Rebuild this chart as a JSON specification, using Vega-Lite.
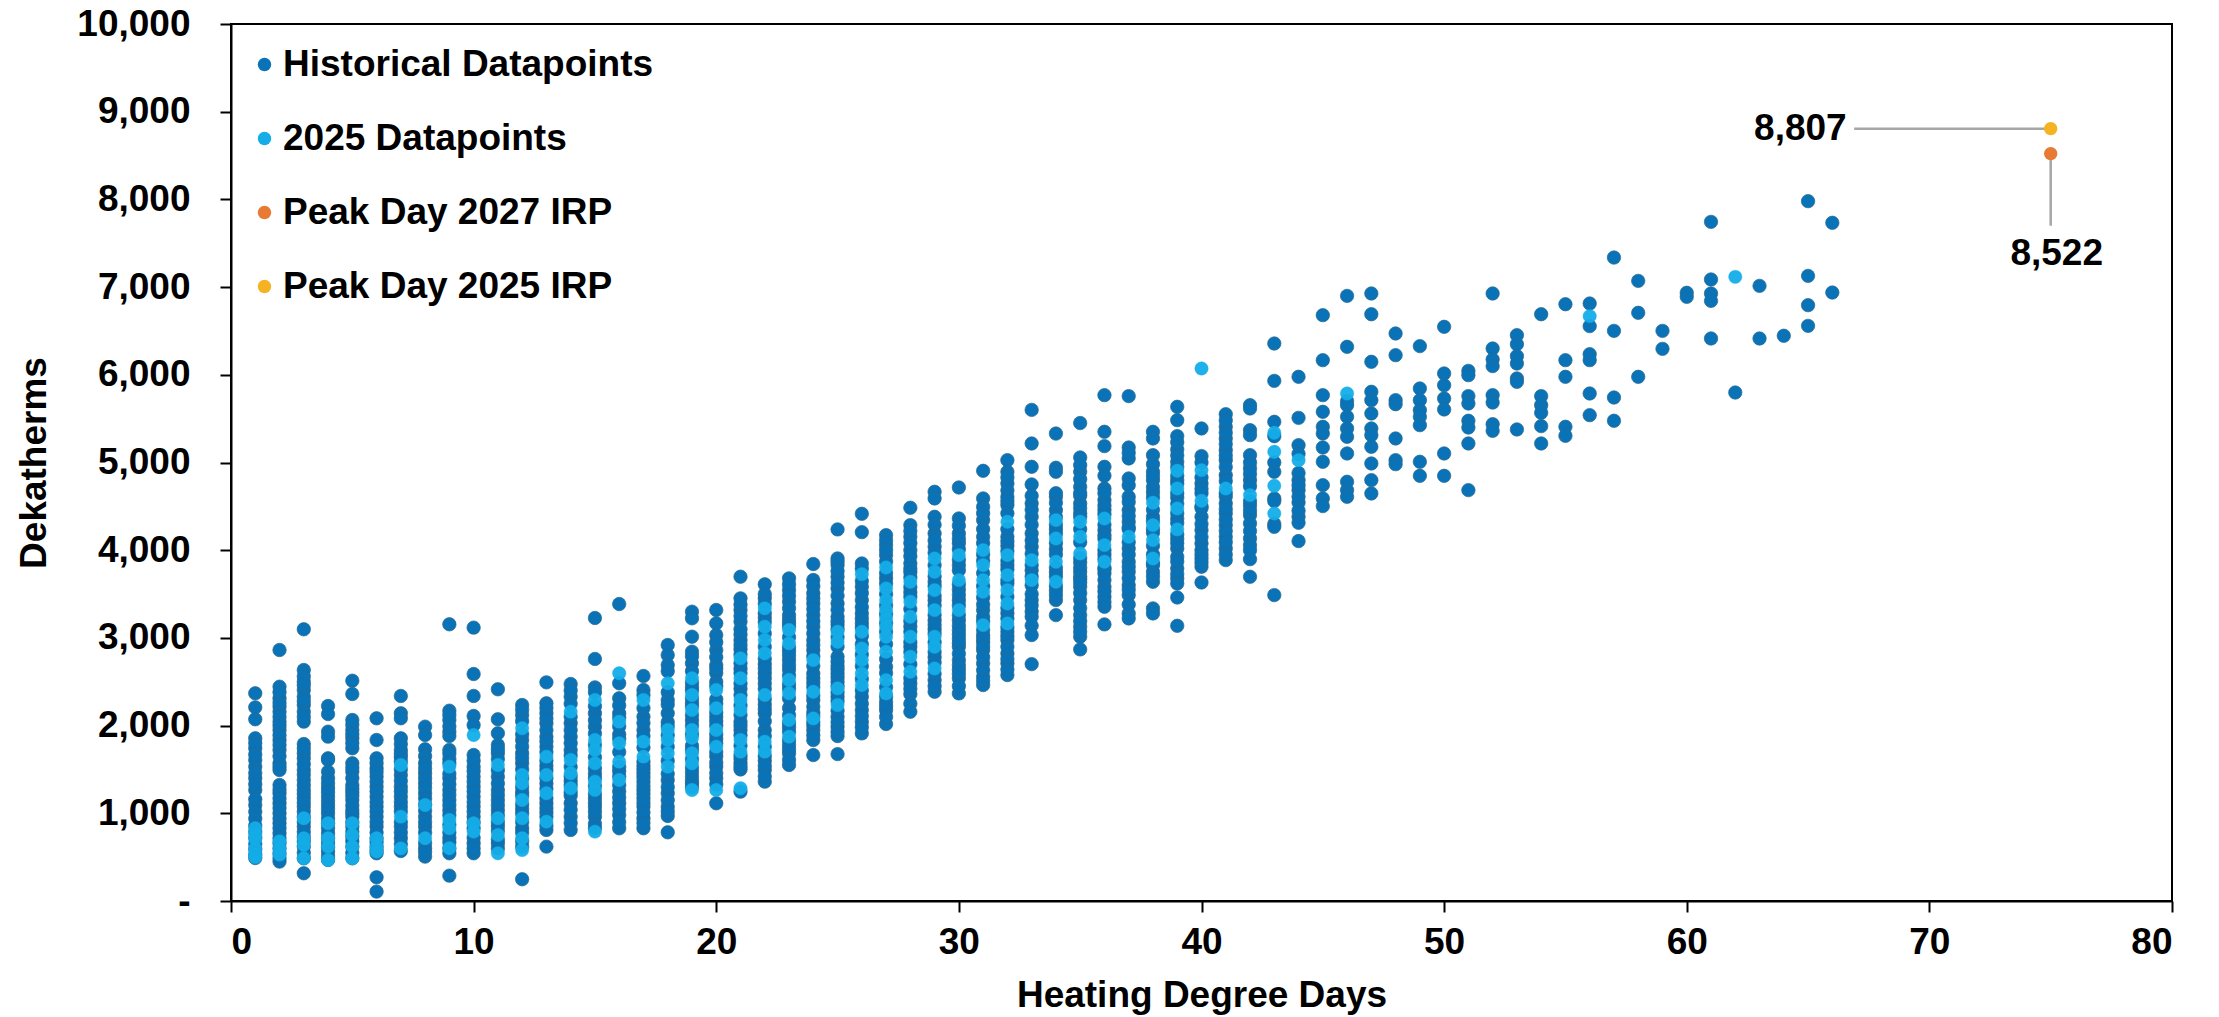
{"$schema":"https://vega.github.io/schema/vega-lite/v6.json","width":1941,"height":877,"autosize":"none","padding":{"left":231,"top":24,"right":47,"bottom":116},"background":"white","config":{"font":"Liberation Sans","view":{"stroke":"black","strokeWidth":2}},"datasets":{
"hist":[
{"hdd":1,"dth":2368},{"hdd":1,"dth":2208},{"hdd":1,"dth":2072},{"hdd":1,"dth":1855},{"hdd":1,"dth":1741},{"hdd":1,"dth":1608},{"hdd":1,"dth":1532},{"hdd":1,"dth":1399},{"hdd":1,"dth":1266},{"hdd":1,"dth":1095},{"hdd":1,"dth":1019},{"hdd":1,"dth":940},{"hdd":1,"dth":860},{"hdd":1,"dth":790},{"hdd":1,"dth":720},{"hdd":1,"dth":650},{"hdd":1,"dth":590},{"hdd":1,"dth":530},{"hdd":1,"dth":490},
{"hdd":1,"dth":1800},{"hdd":1,"dth":1670},{"hdd":1,"dth":1460},{"hdd":1,"dth":1330},{"hdd":1,"dth":1160},
{"hdd":2,"dth":2862},{"hdd":2,"dth":2444},{"hdd":2,"dth":2311},{"hdd":2,"dth":2216},{"hdd":2,"dth":2159},{"hdd":2,"dth":2045},{"hdd":2,"dth":1950},{"hdd":2,"dth":1836},{"hdd":2,"dth":1722},{"hdd":2,"dth":1570},{"hdd":2,"dth":1494},{"hdd":2,"dth":1323},{"hdd":2,"dth":1228},{"hdd":2,"dth":1114},{"hdd":2,"dth":1000},{"hdd":2,"dth":886},{"hdd":2,"dth":772},{"hdd":2,"dth":658},{"hdd":2,"dth":544},{"hdd":2,"dth":449},
{"hdd":2,"dth":2380},{"hdd":2,"dth":2260},{"hdd":2,"dth":2100},{"hdd":2,"dth":2000},{"hdd":2,"dth":1890},{"hdd":2,"dth":1780},{"hdd":2,"dth":1650},{"hdd":2,"dth":1530},{"hdd":2,"dth":1270},{"hdd":2,"dth":1170},{"hdd":2,"dth":1060},{"hdd":2,"dth":940},{"hdd":2,"dth":830},{"hdd":2,"dth":715},{"hdd":2,"dth":600},{"hdd":2,"dth":490},
{"hdd":3,"dth":3098},{"hdd":3,"dth":2634},{"hdd":3,"dth":2501},{"hdd":3,"dth":2406},{"hdd":3,"dth":2330},{"hdd":3,"dth":2235},{"hdd":3,"dth":2159},{"hdd":3,"dth":2045},{"hdd":3,"dth":1790},{"hdd":3,"dth":1684},{"hdd":3,"dth":1627},{"hdd":3,"dth":1494},{"hdd":3,"dth":1380},{"hdd":3,"dth":1266},{"hdd":3,"dth":1171},{"hdd":3,"dth":1076},{"hdd":3,"dth":962},{"hdd":3,"dth":848},{"hdd":3,"dth":734},{"hdd":3,"dth":620},{"hdd":3,"dth":487},{"hdd":3,"dth":316},
{"hdd":3,"dth":2560},{"hdd":3,"dth":2460},{"hdd":3,"dth":2280},{"hdd":3,"dth":2100},{"hdd":3,"dth":1740},{"hdd":3,"dth":1560},{"hdd":3,"dth":1440},{"hdd":3,"dth":1320},{"hdd":3,"dth":1220},{"hdd":3,"dth":1120},{"hdd":3,"dth":1020},{"hdd":3,"dth":900},{"hdd":3,"dth":790},{"hdd":3,"dth":680},{"hdd":3,"dth":550},
{"hdd":4,"dth":2224},{"hdd":4,"dth":2132},{"hdd":4,"dth":1931},{"hdd":4,"dth":1874},{"hdd":4,"dth":1627},{"hdd":4,"dth":1608},{"hdd":4,"dth":1475},{"hdd":4,"dth":1399},{"hdd":4,"dth":1285},{"hdd":4,"dth":1190},{"hdd":4,"dth":1095},{"hdd":4,"dth":1000},{"hdd":4,"dth":886},{"hdd":4,"dth":772},{"hdd":4,"dth":658},{"hdd":4,"dth":563},{"hdd":4,"dth":468},
{"hdd":4,"dth":1340},{"hdd":4,"dth":1240},{"hdd":4,"dth":1140},{"hdd":4,"dth":1050},{"hdd":4,"dth":940},{"hdd":4,"dth":830},{"hdd":4,"dth":715},{"hdd":4,"dth":610},{"hdd":4,"dth":515},
{"hdd":5,"dth":2512},{"hdd":5,"dth":2360},{"hdd":5,"dth":2064},{"hdd":5,"dth":1950},{"hdd":5,"dth":1855},{"hdd":5,"dth":1741},{"hdd":5,"dth":1570},{"hdd":5,"dth":1475},{"hdd":5,"dth":1323},{"hdd":5,"dth":1240},{"hdd":5,"dth":1152},{"hdd":5,"dth":1038},{"hdd":5,"dth":962},{"hdd":5,"dth":848},{"hdd":5,"dth":734},{"hdd":5,"dth":620},{"hdd":5,"dth":487},
{"hdd":5,"dth":2010},{"hdd":5,"dth":1900},{"hdd":5,"dth":1800},{"hdd":5,"dth":1520},{"hdd":5,"dth":1400},{"hdd":5,"dth":1280},{"hdd":5,"dth":1200},{"hdd":5,"dth":1090},{"hdd":5,"dth":1000},{"hdd":5,"dth":900},{"hdd":5,"dth":790},{"hdd":5,"dth":680},{"hdd":5,"dth":550},
{"hdd":6,"dth":2083},{"hdd":6,"dth":1836},{"hdd":6,"dth":1627},{"hdd":6,"dth":1513},{"hdd":6,"dth":1418},{"hdd":6,"dth":1304},{"hdd":6,"dth":1190},{"hdd":6,"dth":1076},{"hdd":6,"dth":962},{"hdd":6,"dth":848},{"hdd":6,"dth":715},{"hdd":6,"dth":620},{"hdd":6,"dth":544},{"hdd":6,"dth":270},{"hdd":6,"dth":107},
{"hdd":6,"dth":1570},{"hdd":6,"dth":1470},{"hdd":6,"dth":1360},{"hdd":6,"dth":1250},{"hdd":6,"dth":1130},{"hdd":6,"dth":1020},{"hdd":6,"dth":900},{"hdd":6,"dth":780},{"hdd":6,"dth":670},{"hdd":6,"dth":580},
{"hdd":7,"dth":2338},{"hdd":7,"dth":2140},{"hdd":7,"dth":2083},{"hdd":7,"dth":1855},{"hdd":7,"dth":1722},{"hdd":7,"dth":1640},{"hdd":7,"dth":1437},{"hdd":7,"dth":1304},{"hdd":7,"dth":1190},{"hdd":7,"dth":1076},{"hdd":7,"dth":848},{"hdd":7,"dth":715},{"hdd":7,"dth":570},
{"hdd":7,"dth":1790},{"hdd":7,"dth":1680},{"hdd":7,"dth":1500},{"hdd":7,"dth":1370},{"hdd":7,"dth":1250},{"hdd":7,"dth":1130},{"hdd":7,"dth":1020},{"hdd":7,"dth":900},{"hdd":7,"dth":780},{"hdd":7,"dth":650},{"hdd":7,"dth":1590},
{"hdd":8,"dth":1988},{"hdd":8,"dth":1893},{"hdd":8,"dth":1730},{"hdd":8,"dth":1650},{"hdd":8,"dth":1570},{"hdd":8,"dth":1456},{"hdd":8,"dth":1342},{"hdd":8,"dth":1228},{"hdd":8,"dth":962},{"hdd":8,"dth":848},{"hdd":8,"dth":601},{"hdd":8,"dth":506},
{"hdd":8,"dth":1510},{"hdd":8,"dth":1400},{"hdd":8,"dth":1290},{"hdd":8,"dth":1170},{"hdd":8,"dth":1100},{"hdd":8,"dth":1030},{"hdd":8,"dth":900},{"hdd":8,"dth":780},{"hdd":8,"dth":660},{"hdd":8,"dth":560},
{"hdd":9,"dth":3155},{"hdd":9,"dth":2170},{"hdd":9,"dth":2064},{"hdd":9,"dth":1931},{"hdd":9,"dth":1882},{"hdd":9,"dth":1722},{"hdd":9,"dth":1620},{"hdd":9,"dth":1399},{"hdd":9,"dth":1266},{"hdd":9,"dth":1152},{"hdd":9,"dth":1038},{"hdd":9,"dth":720},{"hdd":9,"dth":544},{"hdd":9,"dth":289},
{"hdd":9,"dth":2120},{"hdd":9,"dth":1990},{"hdd":9,"dth":1680},{"hdd":9,"dth":1570},{"hdd":9,"dth":1450},{"hdd":9,"dth":1330},{"hdd":9,"dth":1210},{"hdd":9,"dth":1095},{"hdd":9,"dth":980},{"hdd":9,"dth":870},{"hdd":9,"dth":780},{"hdd":9,"dth":670},{"hdd":9,"dth":600},
{"hdd":10,"dth":3117},{"hdd":10,"dth":2588},{"hdd":10,"dth":2338},{"hdd":10,"dth":2110},{"hdd":10,"dth":2007},{"hdd":10,"dth":1665},{"hdd":10,"dth":1532},{"hdd":10,"dth":1418},{"hdd":10,"dth":1304},{"hdd":10,"dth":1190},{"hdd":10,"dth":1076},{"hdd":10,"dth":962},{"hdd":10,"dth":658},{"hdd":10,"dth":544},
{"hdd":10,"dth":1600},{"hdd":10,"dth":1480},{"hdd":10,"dth":1360},{"hdd":10,"dth":1250},{"hdd":10,"dth":1130},{"hdd":10,"dth":1020},{"hdd":10,"dth":900},{"hdd":10,"dth":830},{"hdd":10,"dth":720},{"hdd":10,"dth":600},
{"hdd":11,"dth":2414},{"hdd":11,"dth":2072},{"hdd":11,"dth":1912},{"hdd":11,"dth":1779},{"hdd":11,"dth":1684},{"hdd":11,"dth":1418},{"hdd":11,"dth":1266},{"hdd":11,"dth":1152},{"hdd":11,"dth":1038},{"hdd":11,"dth":853},{"hdd":11,"dth":658},{"hdd":11,"dth":600},
{"hdd":11,"dth":1730},{"hdd":11,"dth":1620},{"hdd":11,"dth":1490},{"hdd":11,"dth":1340},{"hdd":11,"dth":1210},{"hdd":11,"dth":1095},{"hdd":11,"dth":980},{"hdd":11,"dth":900},{"hdd":11,"dth":800},{"hdd":11,"dth":700},
{"hdd":12,"dth":2235},{"hdd":12,"dth":2121},{"hdd":12,"dth":1836},{"hdd":12,"dth":1684},{"hdd":12,"dth":1570},{"hdd":12,"dth":1240},{"hdd":12,"dth":1050},{"hdd":12,"dth":830},{"hdd":12,"dth":620},{"hdd":12,"dth":248},
{"hdd":12,"dth":2180},{"hdd":12,"dth":2050},{"hdd":12,"dth":1900},{"hdd":12,"dth":1760},{"hdd":12,"dth":1630},{"hdd":12,"dth":1500},{"hdd":12,"dth":1400},{"hdd":12,"dth":1300},{"hdd":12,"dth":1200},{"hdd":12,"dth":1100},{"hdd":12,"dth":1000},{"hdd":12,"dth":900},{"hdd":12,"dth":780},{"hdd":12,"dth":680},
{"hdd":13,"dth":2493},{"hdd":13,"dth":2254},{"hdd":13,"dth":2140},{"hdd":13,"dth":2026},{"hdd":13,"dth":1874},{"hdd":13,"dth":1760},{"hdd":13,"dth":1540},{"hdd":13,"dth":1340},{"hdd":13,"dth":1114},{"hdd":13,"dth":1010},{"hdd":13,"dth":810},{"hdd":13,"dth":620},
{"hdd":13,"dth":2200},{"hdd":13,"dth":2080},{"hdd":13,"dth":1950},{"hdd":13,"dth":1820},{"hdd":13,"dth":1700},{"hdd":13,"dth":1600},{"hdd":13,"dth":1490},{"hdd":13,"dth":1400},{"hdd":13,"dth":1280},{"hdd":13,"dth":1170},{"hdd":13,"dth":1060},{"hdd":13,"dth":960},{"hdd":13,"dth":860},
{"hdd":14,"dth":2474},{"hdd":14,"dth":2330},{"hdd":14,"dth":2026},{"hdd":14,"dth":1874},{"hdd":14,"dth":1722},{"hdd":14,"dth":1370},{"hdd":14,"dth":1200},{"hdd":14,"dth":1114},{"hdd":14,"dth":962},{"hdd":14,"dth":810},
{"hdd":14,"dth":2400},{"hdd":14,"dth":2250},{"hdd":14,"dth":2100},{"hdd":14,"dth":1950},{"hdd":14,"dth":1800},{"hdd":14,"dth":1660},{"hdd":14,"dth":1530},{"hdd":14,"dth":1420},{"hdd":14,"dth":1320},{"hdd":14,"dth":1240},{"hdd":14,"dth":1040},{"hdd":14,"dth":890},
{"hdd":15,"dth":3227},{"hdd":15,"dth":2760},{"hdd":15,"dth":2436},{"hdd":15,"dth":2140},{"hdd":15,"dth":1988},{"hdd":15,"dth":1450},{"hdd":15,"dth":1170},{"hdd":15,"dth":1076},{"hdd":15,"dth":962},{"hdd":15,"dth":880},
{"hdd":15,"dth":2380},{"hdd":15,"dth":2220},{"hdd":15,"dth":2060},{"hdd":15,"dth":1910},{"hdd":15,"dth":1780},{"hdd":15,"dth":1640},{"hdd":15,"dth":1510},{"hdd":15,"dth":1400},{"hdd":15,"dth":1310},{"hdd":15,"dth":1220},{"hdd":15,"dth":1120},{"hdd":15,"dth":1020},{"hdd":15,"dth":830},
{"hdd":16,"dth":3386},{"hdd":16,"dth":2482},{"hdd":16,"dth":2311},{"hdd":16,"dth":2140},{"hdd":16,"dth":1900},{"hdd":16,"dth":1480},{"hdd":16,"dth":1250},{"hdd":16,"dth":1114},{"hdd":16,"dth":981},{"hdd":16,"dth":829},
{"hdd":16,"dth":2230},{"hdd":16,"dth":2090},{"hdd":16,"dth":1990},{"hdd":16,"dth":1850},{"hdd":16,"dth":1700},{"hdd":16,"dth":1530},{"hdd":16,"dth":1420},{"hdd":16,"dth":1320},{"hdd":16,"dth":1180},{"hdd":16,"dth":1050},{"hdd":16,"dth":900},
{"hdd":17,"dth":2566},{"hdd":17,"dth":2406},{"hdd":17,"dth":2102},{"hdd":17,"dth":1950},{"hdd":17,"dth":1540},{"hdd":17,"dth":1456},{"hdd":17,"dth":1360},{"hdd":17,"dth":1266},{"hdd":17,"dth":1170},{"hdd":17,"dth":1076},{"hdd":17,"dth":943},{"hdd":17,"dth":829},
{"hdd":17,"dth":2350},{"hdd":17,"dth":2200},{"hdd":17,"dth":2030},{"hdd":17,"dth":1880},{"hdd":17,"dth":1750},{"hdd":17,"dth":1590},{"hdd":17,"dth":1500},{"hdd":17,"dth":1410},{"hdd":17,"dth":1310},{"hdd":17,"dth":1220},{"hdd":17,"dth":1120},{"hdd":17,"dth":1010},{"hdd":17,"dth":890},
{"hdd":18,"dth":2919},{"hdd":18,"dth":2805},{"hdd":18,"dth":2691},{"hdd":18,"dth":2380},{"hdd":18,"dth":2292},{"hdd":18,"dth":2140},{"hdd":18,"dth":2040},{"hdd":18,"dth":1380},{"hdd":18,"dth":1228},{"hdd":18,"dth":1076},{"hdd":18,"dth":970},{"hdd":18,"dth":783},
{"hdd":18,"dth":2620},{"hdd":18,"dth":2240},{"hdd":18,"dth":1990},{"hdd":18,"dth":1890},{"hdd":18,"dth":1760},{"hdd":18,"dth":1600},{"hdd":18,"dth":1450},{"hdd":18,"dth":1300},{"hdd":18,"dth":1150},{"hdd":18,"dth":1020},
{"hdd":19,"dth":3299},{"hdd":19,"dth":3223},{"hdd":19,"dth":3014},{"hdd":19,"dth":2843},{"hdd":19,"dth":2710},{"hdd":19,"dth":2440},{"hdd":19,"dth":2260},{"hdd":19,"dth":2060},{"hdd":19,"dth":1770},{"hdd":19,"dth":1418},{"hdd":19,"dth":1340},
{"hdd":19,"dth":2790},{"hdd":19,"dth":2620},{"hdd":19,"dth":2490},{"hdd":19,"dth":2400},{"hdd":19,"dth":2310},{"hdd":19,"dth":2220},{"hdd":19,"dth":2120},{"hdd":19,"dth":2000},{"hdd":19,"dth":1900},{"hdd":19,"dth":1720},{"hdd":19,"dth":1620},{"hdd":19,"dth":1520},{"hdd":19,"dth":1470},{"hdd":19,"dth":1370},{"hdd":19,"dth":1300},
{"hdd":20,"dth":3318},{"hdd":20,"dth":3166},{"hdd":20,"dth":3033},{"hdd":20,"dth":2862},{"hdd":20,"dth":2691},{"hdd":20,"dth":2600},{"hdd":20,"dth":2500},{"hdd":20,"dth":2300},{"hdd":20,"dth":2100},{"hdd":20,"dth":2000},{"hdd":20,"dth":1850},{"hdd":20,"dth":1650},{"hdd":20,"dth":1532},{"hdd":20,"dth":1399},{"hdd":20,"dth":1114},
{"hdd":20,"dth":2950},{"hdd":20,"dth":2780},{"hdd":20,"dth":2650},{"hdd":20,"dth":2450},{"hdd":20,"dth":2250},{"hdd":20,"dth":2150},{"hdd":20,"dth":2050},{"hdd":20,"dth":1900},{"hdd":20,"dth":1800},{"hdd":20,"dth":1700},{"hdd":20,"dth":1580},{"hdd":20,"dth":1460},{"hdd":20,"dth":1330},
{"hdd":21,"dth":3698},{"hdd":21,"dth":3451},{"hdd":21,"dth":3318},{"hdd":21,"dth":3185},{"hdd":21,"dth":2976},{"hdd":21,"dth":2870},{"hdd":21,"dth":2650},{"hdd":21,"dth":2420},{"hdd":21,"dth":2045},{"hdd":21,"dth":1950},{"hdd":21,"dth":1620},{"hdd":21,"dth":1570},{"hdd":21,"dth":1500},{"hdd":21,"dth":1247},
{"hdd":21,"dth":3380},{"hdd":21,"dth":3250},{"hdd":21,"dth":3100},{"hdd":21,"dth":3040},{"hdd":21,"dth":2920},{"hdd":21,"dth":2810},{"hdd":21,"dth":2710},{"hdd":21,"dth":2600},{"hdd":21,"dth":2480},{"hdd":21,"dth":2350},{"hdd":21,"dth":2230},{"hdd":21,"dth":2120},{"hdd":21,"dth":2000},{"hdd":21,"dth":1890},{"hdd":21,"dth":1770},{"hdd":21,"dth":1660},{"hdd":21,"dth":1530},
{"hdd":22,"dth":3611},{"hdd":22,"dth":3451},{"hdd":22,"dth":3230},{"hdd":22,"dth":2700},{"hdd":22,"dth":2596},{"hdd":22,"dth":2480},{"hdd":22,"dth":2240},{"hdd":22,"dth":2140},{"hdd":22,"dth":1950},{"hdd":22,"dth":1600},{"hdd":22,"dth":1494},{"hdd":22,"dth":1361},
{"hdd":22,"dth":3500},{"hdd":22,"dth":3390},{"hdd":22,"dth":3280},{"hdd":22,"dth":3180},{"hdd":22,"dth":3050},{"hdd":22,"dth":2900},{"hdd":22,"dth":2760},{"hdd":22,"dth":2650},{"hdd":22,"dth":2540},{"hdd":22,"dth":2420},{"hdd":22,"dth":2300},{"hdd":22,"dth":2190},{"hdd":22,"dth":2050},{"hdd":22,"dth":1880},{"hdd":22,"dth":1760},{"hdd":22,"dth":1650},{"hdd":22,"dth":1540},{"hdd":22,"dth":1420},
{"hdd":23,"dth":3679},{"hdd":23,"dth":3546},{"hdd":23,"dth":3413},{"hdd":23,"dth":3261},{"hdd":23,"dth":3170},{"hdd":23,"dth":2850},{"hdd":23,"dth":2748},{"hdd":23,"dth":2640},{"hdd":23,"dth":2420},{"hdd":23,"dth":2200},{"hdd":23,"dth":1980},{"hdd":23,"dth":1780},{"hdd":23,"dth":1684},{"hdd":23,"dth":1551},
{"hdd":23,"dth":3610},{"hdd":23,"dth":3480},{"hdd":23,"dth":3340},{"hdd":23,"dth":3210},{"hdd":23,"dth":3130},{"hdd":23,"dth":3010},{"hdd":23,"dth":2890},{"hdd":23,"dth":2800},{"hdd":23,"dth":2690},{"hdd":23,"dth":2570},{"hdd":23,"dth":2470},{"hdd":23,"dth":2310},{"hdd":23,"dth":2120},{"hdd":23,"dth":2030},{"hdd":23,"dth":1930},{"hdd":23,"dth":1830},{"hdd":23,"dth":1730},{"hdd":23,"dth":1610},
{"hdd":24,"dth":3842},{"hdd":24,"dth":3660},{"hdd":24,"dth":3508},{"hdd":24,"dth":3393},{"hdd":24,"dth":3260},{"hdd":24,"dth":3127},{"hdd":24,"dth":2975},{"hdd":24,"dth":2860},{"hdd":24,"dth":2595},{"hdd":24,"dth":2490},{"hdd":24,"dth":2290},{"hdd":24,"dth":2215},{"hdd":24,"dth":2150},{"hdd":24,"dth":2000},{"hdd":24,"dth":1949},{"hdd":24,"dth":1835},{"hdd":24,"dth":1664},
{"hdd":24,"dth":3590},{"hdd":24,"dth":3450},{"hdd":24,"dth":3330},{"hdd":24,"dth":3190},{"hdd":24,"dth":3050},{"hdd":24,"dth":2920},{"hdd":24,"dth":2790},{"hdd":24,"dth":2680},{"hdd":24,"dth":2540},{"hdd":24,"dth":2440},{"hdd":24,"dth":2340},{"hdd":24,"dth":2110},{"hdd":24,"dth":2040},{"hdd":24,"dth":1890},
{"hdd":25,"dth":4237},{"hdd":25,"dth":3906},{"hdd":25,"dth":3830},{"hdd":25,"dth":3697},{"hdd":25,"dth":3564},{"hdd":25,"dth":3393},{"hdd":25,"dth":3241},{"hdd":25,"dth":3150},{"hdd":25,"dth":2785},{"hdd":25,"dth":2680},{"hdd":25,"dth":2595},{"hdd":25,"dth":2500},{"hdd":25,"dth":2330},{"hdd":25,"dth":2101},{"hdd":25,"dth":1987},{"hdd":25,"dth":1881},{"hdd":25,"dth":1675},
{"hdd":25,"dth":3870},{"hdd":25,"dth":3760},{"hdd":25,"dth":3630},{"hdd":25,"dth":3480},{"hdd":25,"dth":3320},{"hdd":25,"dth":3190},{"hdd":25,"dth":3100},{"hdd":25,"dth":3010},{"hdd":25,"dth":2900},{"hdd":25,"dth":2730},{"hdd":25,"dth":2640},{"hdd":25,"dth":2550},{"hdd":25,"dth":2450},{"hdd":25,"dth":2380},{"hdd":25,"dth":2280},{"hdd":25,"dth":2170},{"hdd":25,"dth":2040},{"hdd":25,"dth":1930},
{"hdd":26,"dth":4415},{"hdd":26,"dth":4206},{"hdd":26,"dth":3849},{"hdd":26,"dth":3650},{"hdd":26,"dth":3583},{"hdd":26,"dth":3431},{"hdd":26,"dth":3279},{"hdd":26,"dth":3170},{"hdd":26,"dth":2329},{"hdd":26,"dth":2177},{"hdd":26,"dth":2044},{"hdd":26,"dth":1911},
{"hdd":26,"dth":3790},{"hdd":26,"dth":3510},{"hdd":26,"dth":3350},{"hdd":26,"dth":3220},{"hdd":26,"dth":3120},{"hdd":26,"dth":3020},{"hdd":26,"dth":2930},{"hdd":26,"dth":2810},{"hdd":26,"dth":2680},{"hdd":26,"dth":2530},{"hdd":26,"dth":2400},{"hdd":26,"dth":2250},{"hdd":26,"dth":2110},{"hdd":26,"dth":1980},
{"hdd":27,"dth":4172},{"hdd":27,"dth":4058},{"hdd":27,"dth":3944},{"hdd":27,"dth":3680},{"hdd":27,"dth":2760},{"hdd":27,"dth":2671},{"hdd":27,"dth":2600},{"hdd":27,"dth":2270},{"hdd":27,"dth":2177},{"hdd":27,"dth":2018},
{"hdd":27,"dth":4110},{"hdd":27,"dth":4000},{"hdd":27,"dth":3870},{"hdd":27,"dth":3740},{"hdd":27,"dth":3620},{"hdd":27,"dth":3500},{"hdd":27,"dth":3370},{"hdd":27,"dth":3270},{"hdd":27,"dth":3170},{"hdd":27,"dth":3070},{"hdd":27,"dth":2930},{"hdd":27,"dth":2440},{"hdd":27,"dth":2330},{"hdd":27,"dth":2220},{"hdd":27,"dth":2100},
{"hdd":28,"dth":4484},{"hdd":28,"dth":4286},{"hdd":28,"dth":4153},{"hdd":28,"dth":4001},{"hdd":28,"dth":3849},{"hdd":28,"dth":3750},{"hdd":28,"dth":3520},{"hdd":28,"dth":3130},{"hdd":28,"dth":2900},{"hdd":28,"dth":2481},{"hdd":28,"dth":2359},{"hdd":28,"dth":2250},{"hdd":28,"dth":2158},
{"hdd":28,"dth":4220},{"hdd":28,"dth":4080},{"hdd":28,"dth":3930},{"hdd":28,"dth":3790},{"hdd":28,"dth":3690},{"hdd":28,"dth":3580},{"hdd":28,"dth":3470},{"hdd":28,"dth":3330},{"hdd":28,"dth":3190},{"hdd":28,"dth":3070},{"hdd":28,"dth":2950},{"hdd":28,"dth":2840},{"hdd":28,"dth":2700},{"hdd":28,"dth":2540},{"hdd":28,"dth":2420},
{"hdd":29,"dth":4666},{"hdd":29,"dth":4590},{"hdd":29,"dth":4381},{"hdd":29,"dth":4191},{"hdd":29,"dth":4039},{"hdd":29,"dth":3640},{"hdd":29,"dth":3430},{"hdd":29,"dth":3200},{"hdd":29,"dth":3100},{"hdd":29,"dth":2780},{"hdd":29,"dth":2519},{"hdd":29,"dth":2386},
{"hdd":29,"dth":4290},{"hdd":29,"dth":4110},{"hdd":29,"dth":3970},{"hdd":29,"dth":3830},{"hdd":29,"dth":3700},{"hdd":29,"dth":3590},{"hdd":29,"dth":3480},{"hdd":29,"dth":3370},{"hdd":29,"dth":3260},{"hdd":29,"dth":3150},{"hdd":29,"dth":3050},{"hdd":29,"dth":2950},{"hdd":29,"dth":2840},{"hdd":29,"dth":2720},{"hdd":29,"dth":2590},{"hdd":29,"dth":2450},
{"hdd":30,"dth":4715},{"hdd":30,"dth":4362},{"hdd":30,"dth":4191},{"hdd":30,"dth":4080},{"hdd":30,"dth":3830},{"hdd":30,"dth":3550},{"hdd":30,"dth":3430},{"hdd":30,"dth":3200},{"hdd":30,"dth":3089},{"hdd":30,"dth":2990},{"hdd":30,"dth":2899},{"hdd":30,"dth":2747},{"hdd":30,"dth":2640},{"hdd":30,"dth":2538},{"hdd":30,"dth":2367},
{"hdd":30,"dth":4280},{"hdd":30,"dth":4130},{"hdd":30,"dth":4010},{"hdd":30,"dth":3890},{"hdd":30,"dth":3770},{"hdd":30,"dth":3610},{"hdd":30,"dth":3490},{"hdd":30,"dth":3370},{"hdd":30,"dth":3260},{"hdd":30,"dth":3140},{"hdd":30,"dth":3040},{"hdd":30,"dth":2940},{"hdd":30,"dth":2820},{"hdd":30,"dth":2690},{"hdd":30,"dth":2590},{"hdd":30,"dth":2450},
{"hdd":31,"dth":4905},{"hdd":31,"dth":4590},{"hdd":31,"dth":4495},{"hdd":31,"dth":4343},{"hdd":31,"dth":4240},{"hdd":31,"dth":4153},{"hdd":31,"dth":3317},{"hdd":31,"dth":3240},{"hdd":31,"dth":3030},{"hdd":31,"dth":2950},{"hdd":31,"dth":2861},{"hdd":31,"dth":2709},{"hdd":31,"dth":2557},{"hdd":31,"dth":2462},
{"hdd":31,"dth":4420},{"hdd":31,"dth":4080},{"hdd":31,"dth":3950},{"hdd":31,"dth":3880},{"hdd":31,"dth":3740},{"hdd":31,"dth":3590},{"hdd":31,"dth":3460},{"hdd":31,"dth":3380},{"hdd":31,"dth":3190},{"hdd":31,"dth":3090},{"hdd":31,"dth":2990},{"hdd":31,"dth":2900},{"hdd":31,"dth":2780},{"hdd":31,"dth":2630},{"hdd":31,"dth":2510},
{"hdd":32,"dth":5027},{"hdd":32,"dth":4894},{"hdd":32,"dth":4761},{"hdd":32,"dth":4609},{"hdd":32,"dth":4514},{"hdd":32,"dth":4153},{"hdd":32,"dth":4050},{"hdd":32,"dth":3830},{"hdd":32,"dth":3620},{"hdd":32,"dth":3280},{"hdd":32,"dth":3070},{"hdd":32,"dth":2975},{"hdd":32,"dth":2823},{"hdd":32,"dth":2709},{"hdd":32,"dth":2576},
{"hdd":32,"dth":4830},{"hdd":32,"dth":4680},{"hdd":32,"dth":4560},{"hdd":32,"dth":4420},{"hdd":32,"dth":4240},{"hdd":32,"dth":4100},{"hdd":32,"dth":3990},{"hdd":32,"dth":3880},{"hdd":32,"dth":3780},{"hdd":32,"dth":3660},{"hdd":32,"dth":3470},{"hdd":32,"dth":3340},{"hdd":32,"dth":3220},{"hdd":32,"dth":3120},{"hdd":32,"dth":3020},{"hdd":32,"dth":2900},{"hdd":32,"dth":2760},{"hdd":32,"dth":2640},
{"hdd":33,"dth":5600},{"hdd":33,"dth":5217},{"hdd":33,"dth":4951},{"hdd":33,"dth":4750},{"hdd":33,"dth":4533},{"hdd":33,"dth":4381},{"hdd":33,"dth":4191},{"hdd":33,"dth":4039},{"hdd":33,"dth":3770},{"hdd":33,"dth":3431},{"hdd":33,"dth":3300},{"hdd":33,"dth":3241},{"hdd":33,"dth":3140},{"hdd":33,"dth":3032},{"hdd":33,"dth":2701},
{"hdd":33,"dth":4620},{"hdd":33,"dth":4460},{"hdd":33,"dth":4290},{"hdd":33,"dth":4110},{"hdd":33,"dth":3960},{"hdd":33,"dth":3830},{"hdd":33,"dth":3700},{"hdd":33,"dth":3600},{"hdd":33,"dth":3500},{"hdd":33,"dth":3370},
{"hdd":34,"dth":5330},{"hdd":34,"dth":4940},{"hdd":34,"dth":4894},{"hdd":34,"dth":4609},{"hdd":34,"dth":4457},{"hdd":34,"dth":4240},{"hdd":34,"dth":4010},{"hdd":34,"dth":3750},{"hdd":34,"dth":3540},{"hdd":34,"dth":3431},{"hdd":34,"dth":3260},
{"hdd":34,"dth":4650},{"hdd":34,"dth":4540},{"hdd":34,"dth":4380},{"hdd":34,"dth":4290},{"hdd":34,"dth":4190},{"hdd":34,"dth":4080},{"hdd":34,"dth":3950},{"hdd":34,"dth":3800},{"hdd":34,"dth":3700},{"hdd":34,"dth":3590},{"hdd":34,"dth":3490},
{"hdd":35,"dth":5450},{"hdd":35,"dth":5057},{"hdd":35,"dth":4894},{"hdd":35,"dth":4723},{"hdd":35,"dth":4620},{"hdd":35,"dth":4533},{"hdd":35,"dth":4420},{"hdd":35,"dth":3860},{"hdd":35,"dth":3754},{"hdd":35,"dth":3670},{"hdd":35,"dth":3583},{"hdd":35,"dth":3431},{"hdd":35,"dth":3260},{"hdd":35,"dth":3127},{"hdd":35,"dth":3013},{"hdd":35,"dth":2869},
{"hdd":35,"dth":4970},{"hdd":35,"dth":4810},{"hdd":35,"dth":4650},{"hdd":35,"dth":4480},{"hdd":35,"dth":4380},{"hdd":35,"dth":4240},{"hdd":35,"dth":4090},{"hdd":35,"dth":3910},{"hdd":35,"dth":3800},{"hdd":35,"dth":3700},{"hdd":35,"dth":3630},{"hdd":35,"dth":3510},{"hdd":35,"dth":3340},{"hdd":35,"dth":3190},{"hdd":35,"dth":3070},
{"hdd":36,"dth":5768},{"hdd":36,"dth":5350},{"hdd":36,"dth":5187},{"hdd":36,"dth":4951},{"hdd":36,"dth":4850},{"hdd":36,"dth":4704},{"hdd":36,"dth":4571},{"hdd":36,"dth":4460},{"hdd":36,"dth":4229},{"hdd":36,"dth":4130},{"hdd":36,"dth":3950},{"hdd":36,"dth":3800},{"hdd":36,"dth":3735},{"hdd":36,"dth":3583},{"hdd":36,"dth":3469},{"hdd":36,"dth":3355},{"hdd":36,"dth":3154},
{"hdd":36,"dth":4650},{"hdd":36,"dth":4510},{"hdd":36,"dth":4410},{"hdd":36,"dth":4290},{"hdd":36,"dth":4170},{"hdd":36,"dth":4000},{"hdd":36,"dth":3900},{"hdd":36,"dth":3780},{"hdd":36,"dth":3660},{"hdd":36,"dth":3530},{"hdd":36,"dth":3410},
{"hdd":37,"dth":5757},{"hdd":37,"dth":5171},{"hdd":37,"dth":5046},{"hdd":37,"dth":4818},{"hdd":37,"dth":4609},{"hdd":37,"dth":4457},{"hdd":37,"dth":4324},{"hdd":37,"dth":4240},{"hdd":37,"dth":4020},{"hdd":37,"dth":3868},{"hdd":37,"dth":3754},{"hdd":37,"dth":3602},{"hdd":37,"dth":3488},{"hdd":37,"dth":3380},{"hdd":37,"dth":3279},{"hdd":37,"dth":3222},
{"hdd":37,"dth":5110},{"hdd":37,"dth":4740},{"hdd":37,"dth":4550},{"hdd":37,"dth":4390},{"hdd":37,"dth":4260},{"hdd":37,"dth":4090},{"hdd":37,"dth":3950},{"hdd":37,"dth":3810},{"hdd":37,"dth":3680},{"hdd":37,"dth":3550},
{"hdd":38,"dth":5350},{"hdd":38,"dth":5274},{"hdd":38,"dth":5084},{"hdd":38,"dth":4894},{"hdd":38,"dth":4799},{"hdd":38,"dth":4660},{"hdd":38,"dth":4381},{"hdd":38,"dth":4200},{"hdd":38,"dth":3850},{"hdd":38,"dth":3754},{"hdd":38,"dth":3640},{"hdd":38,"dth":3336},{"hdd":38,"dth":3279},
{"hdd":38,"dth":4980},{"hdd":38,"dth":4850},{"hdd":38,"dth":4720},{"hdd":38,"dth":4600},{"hdd":38,"dth":4460},{"hdd":38,"dth":4330},{"hdd":38,"dth":4240},{"hdd":38,"dth":4050},{"hdd":38,"dth":3950},{"hdd":38,"dth":3830},{"hdd":38,"dth":3700},
{"hdd":39,"dth":5635},{"hdd":39,"dth":5483},{"hdd":39,"dth":5301},{"hdd":39,"dth":5149},{"hdd":39,"dth":5008},{"hdd":39,"dth":4800},{"hdd":39,"dth":4600},{"hdd":39,"dth":4360},{"hdd":39,"dth":4130},{"hdd":39,"dth":4020},{"hdd":39,"dth":3925},{"hdd":39,"dth":3792},{"hdd":39,"dth":3678},{"hdd":39,"dth":3461},{"hdd":39,"dth":3138},
{"hdd":39,"dth":5230},{"hdd":39,"dth":5080},{"hdd":39,"dth":4950},{"hdd":39,"dth":4850},{"hdd":39,"dth":4760},{"hdd":39,"dth":4650},{"hdd":39,"dth":4530},{"hdd":39,"dth":4420},{"hdd":39,"dth":4310},{"hdd":39,"dth":4180},{"hdd":39,"dth":4080},{"hdd":39,"dth":3870},{"hdd":39,"dth":3730},{"hdd":39,"dth":3620},
{"hdd":40,"dth":5388},{"hdd":40,"dth":5073},{"hdd":40,"dth":4761},{"hdd":40,"dth":4650},{"hdd":40,"dth":4480},{"hdd":40,"dth":4381},{"hdd":40,"dth":4229},{"hdd":40,"dth":4077},{"hdd":40,"dth":3906},{"hdd":40,"dth":3811},{"hdd":40,"dth":3632},
{"hdd":40,"dth":5000},{"hdd":40,"dth":4830},{"hdd":40,"dth":4700},{"hdd":40,"dth":4500},{"hdd":40,"dth":4300},{"hdd":40,"dth":4150},{"hdd":40,"dth":4000},{"hdd":40,"dth":3950},{"hdd":40,"dth":3860},
{"hdd":41,"dth":5551},{"hdd":41,"dth":5407},{"hdd":41,"dth":5274},{"hdd":41,"dth":5141},{"hdd":41,"dth":5027},{"hdd":41,"dth":4856},{"hdd":41,"dth":4610},{"hdd":41,"dth":4533},{"hdd":41,"dth":4419},{"hdd":41,"dth":4286},{"hdd":41,"dth":4153},{"hdd":41,"dth":4020},{"hdd":41,"dth":3887},
{"hdd":41,"dth":5480},{"hdd":41,"dth":5340},{"hdd":41,"dth":5210},{"hdd":41,"dth":5080},{"hdd":41,"dth":4950},{"hdd":41,"dth":4790},{"hdd":41,"dth":4650},{"hdd":41,"dth":4470},{"hdd":41,"dth":4350},{"hdd":41,"dth":4220},{"hdd":41,"dth":4090},{"hdd":41,"dth":3950},
{"hdd":42,"dth":5654},{"hdd":42,"dth":5616},{"hdd":42,"dth":5369},{"hdd":42,"dth":5312},{"hdd":42,"dth":5084},{"hdd":42,"dth":4932},{"hdd":42,"dth":4799},{"hdd":42,"dth":4510},{"hdd":42,"dth":4400},{"hdd":42,"dth":4305},{"hdd":42,"dth":4134},{"hdd":42,"dth":4058},{"hdd":42,"dth":3898},{"hdd":42,"dth":3697},
{"hdd":42,"dth":5000},{"hdd":42,"dth":4870},{"hdd":42,"dth":4730},{"hdd":42,"dth":4560},{"hdd":42,"dth":4450},{"hdd":42,"dth":4220},{"hdd":42,"dth":4000},
{"hdd":43,"dth":6357},{"hdd":43,"dth":5931},{"hdd":43,"dth":5464},{"hdd":43,"dth":5300},{"hdd":43,"dth":5000},{"hdd":43,"dth":4894},{"hdd":43,"dth":4590},{"hdd":43,"dth":4560},{"hdd":43,"dth":4300},{"hdd":43,"dth":4267},{"hdd":43,"dth":3488},
{"hdd":44,"dth":5977},{"hdd":44,"dth":5509},{"hdd":44,"dth":5198},{"hdd":44,"dth":5100},{"hdd":44,"dth":4799},{"hdd":44,"dth":4685},{"hdd":44,"dth":4544},{"hdd":44,"dth":4381},{"hdd":44,"dth":4313},{"hdd":44,"dth":4104},
{"hdd":44,"dth":4880},{"hdd":44,"dth":4740},{"hdd":44,"dth":4610},{"hdd":44,"dth":4450},
{"hdd":45,"dth":6680},{"hdd":45,"dth":6167},{"hdd":45,"dth":5768},{"hdd":45,"dth":5578},{"hdd":45,"dth":5407},{"hdd":45,"dth":5331},{"hdd":45,"dth":5171},{"hdd":45,"dth":5008},{"hdd":45,"dth":4742},{"hdd":45,"dth":4590},{"hdd":45,"dth":4503},
{"hdd":46,"dth":6900},{"hdd":46,"dth":6319},{"hdd":46,"dth":5700},{"hdd":46,"dth":5654},{"hdd":46,"dth":5521},{"hdd":46,"dth":5388},{"hdd":46,"dth":5293},{"hdd":46,"dth":5103},{"hdd":46,"dth":4780},{"hdd":46,"dth":4685},{"hdd":46,"dth":4609},
{"hdd":47,"dth":6927},{"hdd":47,"dth":6691},{"hdd":47,"dth":6148},{"hdd":47,"dth":5806},{"hdd":47,"dth":5711},{"hdd":47,"dth":5559},{"hdd":47,"dth":5388},{"hdd":47,"dth":5312},{"hdd":47,"dth":5179},{"hdd":47,"dth":4989},{"hdd":47,"dth":4799},{"hdd":47,"dth":4647},
{"hdd":48,"dth":6471},{"hdd":48,"dth":6224},{"hdd":48,"dth":5711},{"hdd":48,"dth":5665},{"hdd":48,"dth":5274},{"hdd":48,"dth":5027},{"hdd":48,"dth":4981},
{"hdd":49,"dth":6327},{"hdd":49,"dth":5844},{"hdd":49,"dth":5711},{"hdd":49,"dth":5597},{"hdd":49,"dth":5521},{"hdd":49,"dth":5426},{"hdd":49,"dth":5008},{"hdd":49,"dth":4848},
{"hdd":50,"dth":6547},{"hdd":50,"dth":6015},{"hdd":50,"dth":5882},{"hdd":50,"dth":5730},{"hdd":50,"dth":5605},{"hdd":50,"dth":5103},{"hdd":50,"dth":4848},
{"hdd":51,"dth":6045},{"hdd":51,"dth":5996},{"hdd":51,"dth":5757},{"hdd":51,"dth":5673},{"hdd":51,"dth":5476},{"hdd":51,"dth":5399},{"hdd":51,"dth":5217},{"hdd":51,"dth":4685},
{"hdd":52,"dth":6927},{"hdd":52,"dth":6300},{"hdd":52,"dth":6175},{"hdd":52,"dth":6099},{"hdd":52,"dth":5768},{"hdd":52,"dth":5684},{"hdd":52,"dth":5437},{"hdd":52,"dth":5361},
{"hdd":53,"dth":6452},{"hdd":53,"dth":6349},{"hdd":53,"dth":6213},{"hdd":53,"dth":6129},{"hdd":53,"dth":5958},{"hdd":53,"dth":5920},{"hdd":53,"dth":5377},
{"hdd":54,"dth":6691},{"hdd":54,"dth":5757},{"hdd":54,"dth":5654},{"hdd":54,"dth":5567},{"hdd":54,"dth":5415},{"hdd":54,"dth":5217},
{"hdd":55,"dth":6805},{"hdd":55,"dth":6167},{"hdd":55,"dth":5977},{"hdd":55,"dth":5407},{"hdd":55,"dth":5304},
{"hdd":56,"dth":6813},{"hdd":56,"dth":6555},{"hdd":56,"dth":6235},{"hdd":56,"dth":6167},{"hdd":56,"dth":5787},{"hdd":56,"dth":5540},
{"hdd":57,"dth":7337},{"hdd":57,"dth":6501},{"hdd":57,"dth":5741},{"hdd":57,"dth":5476},
{"hdd":58,"dth":7071},{"hdd":58,"dth":6707},{"hdd":58,"dth":5977},
{"hdd":59,"dth":6501},{"hdd":59,"dth":6296},
{"hdd":60,"dth":6935},{"hdd":60,"dth":6889},
{"hdd":61,"dth":7744},{"hdd":61,"dth":7087},{"hdd":61,"dth":6927},{"hdd":61,"dth":6843},{"hdd":61,"dth":6414},
{"hdd":62,"dth":5798},
{"hdd":63,"dth":7014},{"hdd":63,"dth":6414},
{"hdd":64,"dth":6445},
{"hdd":65,"dth":7980},{"hdd":65,"dth":7128},{"hdd":65,"dth":6794},{"hdd":65,"dth":6558},
{"hdd":66,"dth":7733},{"hdd":66,"dth":6938}
],
"y2025":[
{"hdd":1,"dth":830},{"hdd":1,"dth":760},{"hdd":1,"dth":710},{"hdd":1,"dth":600},{"hdd":1,"dth":530},{"hdd":1,"dth":500},
{"hdd":2,"dth":680},{"hdd":2,"dth":600},{"hdd":2,"dth":530},
{"hdd":3,"dth":943},{"hdd":3,"dth":715},{"hdd":3,"dth":639},{"hdd":3,"dth":487},
{"hdd":4,"dth":886},{"hdd":4,"dth":715},{"hdd":4,"dth":620},{"hdd":4,"dth":468},
{"hdd":5,"dth":886},{"hdd":5,"dth":753},{"hdd":5,"dth":620},{"hdd":5,"dth":487},
{"hdd":6,"dth":715},{"hdd":6,"dth":620},{"hdd":6,"dth":563},
{"hdd":7,"dth":1551},{"hdd":7,"dth":962},{"hdd":7,"dth":600},
{"hdd":8,"dth":1095},{"hdd":8,"dth":715},
{"hdd":9,"dth":1532},{"hdd":9,"dth":924},{"hdd":9,"dth":829},{"hdd":9,"dth":601},
{"hdd":10,"dth":1893},{"hdd":10,"dth":886},{"hdd":10,"dth":791},
{"hdd":11,"dth":1551},{"hdd":11,"dth":943},{"hdd":11,"dth":753},{"hdd":11,"dth":544},
{"hdd":12,"dth":1969},{"hdd":12,"dth":1437},{"hdd":12,"dth":1342},{"hdd":12,"dth":1152},{"hdd":12,"dth":943},{"hdd":12,"dth":715},{"hdd":12,"dth":582},
{"hdd":13,"dth":1646},{"hdd":13,"dth":1437},{"hdd":13,"dth":1228},{"hdd":13,"dth":905},
{"hdd":14,"dth":2159},{"hdd":14,"dth":1608},{"hdd":14,"dth":1456},{"hdd":14,"dth":1285},
{"hdd":15,"dth":2292},{"hdd":15,"dth":1836},{"hdd":15,"dth":1722},{"hdd":15,"dth":1570},{"hdd":15,"dth":1361},{"hdd":15,"dth":1266},{"hdd":15,"dth":791},
{"hdd":16,"dth":2596},{"hdd":16,"dth":2045},{"hdd":16,"dth":1798},{"hdd":16,"dth":1589},{"hdd":16,"dth":1380},
{"hdd":17,"dth":2292},{"hdd":17,"dth":1817},{"hdd":17,"dth":1646},
{"hdd":18,"dth":2482},{"hdd":18,"dth":1950},{"hdd":18,"dth":1836},{"hdd":18,"dth":1684},{"hdd":18,"dth":1532},
{"hdd":19,"dth":2539},{"hdd":19,"dth":2349},{"hdd":19,"dth":2178},{"hdd":19,"dth":1950},{"hdd":19,"dth":1860},{"hdd":19,"dth":1684},{"hdd":19,"dth":1570},{"hdd":19,"dth":1266},
{"hdd":20,"dth":2406},{"hdd":20,"dth":2197},{"hdd":20,"dth":1950},{"hdd":20,"dth":1760},{"hdd":20,"dth":1266},
{"hdd":21,"dth":2767},{"hdd":21,"dth":2539},{"hdd":21,"dth":2292},{"hdd":21,"dth":2178},{"hdd":21,"dth":1836},{"hdd":21,"dth":1703},{"hdd":21,"dth":1285},
{"hdd":22,"dth":3337},{"hdd":22,"dth":3128},{"hdd":22,"dth":2976},{"hdd":22,"dth":2824},{"hdd":22,"dth":2349},{"hdd":22,"dth":1817},{"hdd":22,"dth":1703},
{"hdd":23,"dth":3090},{"hdd":23,"dth":2938},{"hdd":23,"dth":2520},{"hdd":23,"dth":2368},{"hdd":23,"dth":2064},{"hdd":23,"dth":1874},
{"hdd":24,"dth":2747},{"hdd":24,"dth":2386},{"hdd":24,"dth":2082},
{"hdd":25,"dth":3070},{"hdd":25,"dth":2956},{"hdd":25,"dth":2424},{"hdd":25,"dth":2234},
{"hdd":26,"dth":3727},{"hdd":26,"dth":3070},{"hdd":26,"dth":2880},{"hdd":26,"dth":2747},{"hdd":26,"dth":2595},{"hdd":26,"dth":2462},
{"hdd":27,"dth":3803},{"hdd":27,"dth":3564},{"hdd":27,"dth":3431},{"hdd":27,"dth":3317},{"hdd":27,"dth":3220},{"hdd":27,"dth":3127},{"hdd":27,"dth":3013},{"hdd":27,"dth":2842},{"hdd":27,"dth":2519},{"hdd":27,"dth":2367},
{"hdd":28,"dth":3640},{"hdd":28,"dth":3412},{"hdd":28,"dth":3241},{"hdd":28,"dth":3013},{"hdd":28,"dth":2785},{"hdd":28,"dth":2614},
{"hdd":29,"dth":3906},{"hdd":29,"dth":3754},{"hdd":29,"dth":3545},{"hdd":29,"dth":3317},{"hdd":29,"dth":3013},{"hdd":29,"dth":2899},{"hdd":29,"dth":2652},
{"hdd":30,"dth":3944},{"hdd":30,"dth":3659},{"hdd":30,"dth":3317},
{"hdd":31,"dth":4001},{"hdd":31,"dth":3830},{"hdd":31,"dth":3659},{"hdd":31,"dth":3526},{"hdd":31,"dth":3146},
{"hdd":32,"dth":4324},{"hdd":32,"dth":3944},{"hdd":32,"dth":3716},{"hdd":32,"dth":3545},{"hdd":32,"dth":3393},{"hdd":32,"dth":3165},
{"hdd":33,"dth":3887},{"hdd":33,"dth":3659},
{"hdd":34,"dth":4343},{"hdd":34,"dth":4134},{"hdd":34,"dth":3868},{"hdd":34,"dth":3640},
{"hdd":35,"dth":4324},{"hdd":35,"dth":4153},{"hdd":35,"dth":3963},
{"hdd":36,"dth":4362},{"hdd":36,"dth":4058},{"hdd":36,"dth":3868},
{"hdd":37,"dth":4153},
{"hdd":38,"dth":4541},{"hdd":38,"dth":4286},{"hdd":38,"dth":4115},{"hdd":38,"dth":3906},
{"hdd":39,"dth":4905},{"hdd":39,"dth":4704},{"hdd":39,"dth":4476},{"hdd":39,"dth":4237},
{"hdd":40,"dth":6072},{"hdd":40,"dth":4913},{"hdd":40,"dth":4563},
{"hdd":41,"dth":4704},
{"hdd":42,"dth":4628},
{"hdd":43,"dth":5339},{"hdd":43,"dth":5122},{"hdd":43,"dth":4734},{"hdd":43,"dth":4419},
{"hdd":44,"dth":5027},
{"hdd":46,"dth":5787},
{"hdd":56,"dth":6669},
{"hdd":62,"dth":7117}
],
"peak2027":[{"hdd":75,"dth":8522}],
"peak2025":[{"hdd":75,"dth":8807}]
},
"layer":[
{"data":{"name":"peak2025"},"mark":{"type":"rule","color":"#A6A6A6","strokeWidth":2.5},"encoding":{"x":{"field":"hdd","type":"quantitative","scale":{"domain":[0,80],"nice":false},"axis":{"values":[0,10,20,30,40,50,60,70,80],"labelFont":"Liberation Sans","labelFontWeight":"bold","labelFontSize":37,"labelColor":"black","labelPadding":12,"tickColor":"black","tickWidth":2,"tickSize":11,"domainColor":"black","domainWidth":2,"grid":false,"title":"Heating Degree Days","titleFont":"Liberation Sans","titleFontWeight":"bold","titleFontSize":37,"titleColor":"black","titlePadding":17}},"x2":{"datum":66.9},"y":{"field":"dth","type":"quantitative","scale":{"domain":[0,10000],"nice":false},"axis":{"values":[0,1000,2000,3000,4000,5000,6000,7000,8000,9000,10000],"labelExpr":"datum.value==0?'-':format(datum.value,',')","labelFont":"Liberation Sans","labelFontWeight":"bold","labelFontSize":37,"labelColor":"black","labelPadding":30,"tickColor":"black","tickWidth":2,"tickSize":11,"domainColor":"black","domainWidth":2,"grid":false,"title":"Dekatherms","titleFont":"Liberation Sans","titleFontWeight":"bold","titleFontSize":37,"titleColor":"black","titlePadding":23}}}},
{"data":{"name":"peak2027"},"mark":{"type":"rule","color":"#A6A6A6","strokeWidth":2.5},"encoding":{"x":{"field":"hdd","type":"quantitative"},"y":{"field":"dth","type":"quantitative"},"y2":{"datum":7700}}},
{"data":{"name":"hist"},"mark":{"type":"point","filled":true,"size":180,"opacity":1,"stroke":"#27698F","strokeWidth":1,"strokeOpacity":0.7},"encoding":{"x":{"field":"hdd","type":"quantitative"},"y":{"field":"dth","type":"quantitative"},"color":{"datum":"Historical Datapoints","type":"nominal","scale":{"domain":["Historical Datapoints","2025 Datapoints","Peak Day 2027 IRP","Peak Day 2025 IRP"],"range":["#0A73B8","#14ADE8","#E87B33","#F5B324"]},"legend":{"orient":"none","legendX":15,"legendY":22,"title":null,"symbolType":"circle","symbolSize":180,"symbolOpacity":1,"symbolStrokeWidth":0,"labelFont":"Liberation Sans","labelFontWeight":"bold","labelFontSize":37,"labelColor":"black","labelOffset":0,"labelLimit":600,"rowPadding":36,"padding":0,"clipHeight":37}}}},
{"data":{"name":"y2025"},"mark":{"type":"point","filled":true,"size":180,"opacity":0.95,"stroke":"#14ADE8","strokeWidth":1,"strokeOpacity":0.4},"encoding":{"x":{"field":"hdd","type":"quantitative"},"y":{"field":"dth","type":"quantitative"},"color":{"datum":"2025 Datapoints","type":"nominal"}}},
{"data":{"name":"peak2027"},"mark":{"type":"point","filled":true,"size":180,"opacity":1},"encoding":{"x":{"field":"hdd","type":"quantitative"},"y":{"field":"dth","type":"quantitative"},"color":{"datum":"Peak Day 2027 IRP","type":"nominal"}}},
{"data":{"name":"peak2025"},"mark":{"type":"point","filled":true,"size":180,"opacity":1},"encoding":{"x":{"field":"hdd","type":"quantitative"},"y":{"field":"dth","type":"quantitative"},"color":{"datum":"Peak Day 2025 IRP","type":"nominal"}}},
{"data":{"name":"peak2025"},"mark":{"type":"text","align":"right","baseline":"middle","dx":-204,"fontWeight":"bold","fontSize":37,"font":"Liberation Sans","color":"black"},"encoding":{"x":{"field":"hdd","type":"quantitative"},"y":{"field":"dth","type":"quantitative"},"text":{"field":"dth","type":"quantitative","format":","}}},
{"data":{"name":"peak2027"},"mark":{"type":"text","align":"center","baseline":"middle","dx":6,"dy":100,"fontWeight":"bold","fontSize":37,"font":"Liberation Sans","color":"black"},"encoding":{"x":{"field":"hdd","type":"quantitative"},"y":{"field":"dth","type":"quantitative"},"text":{"field":"dth","type":"quantitative","format":","}}}
]}
